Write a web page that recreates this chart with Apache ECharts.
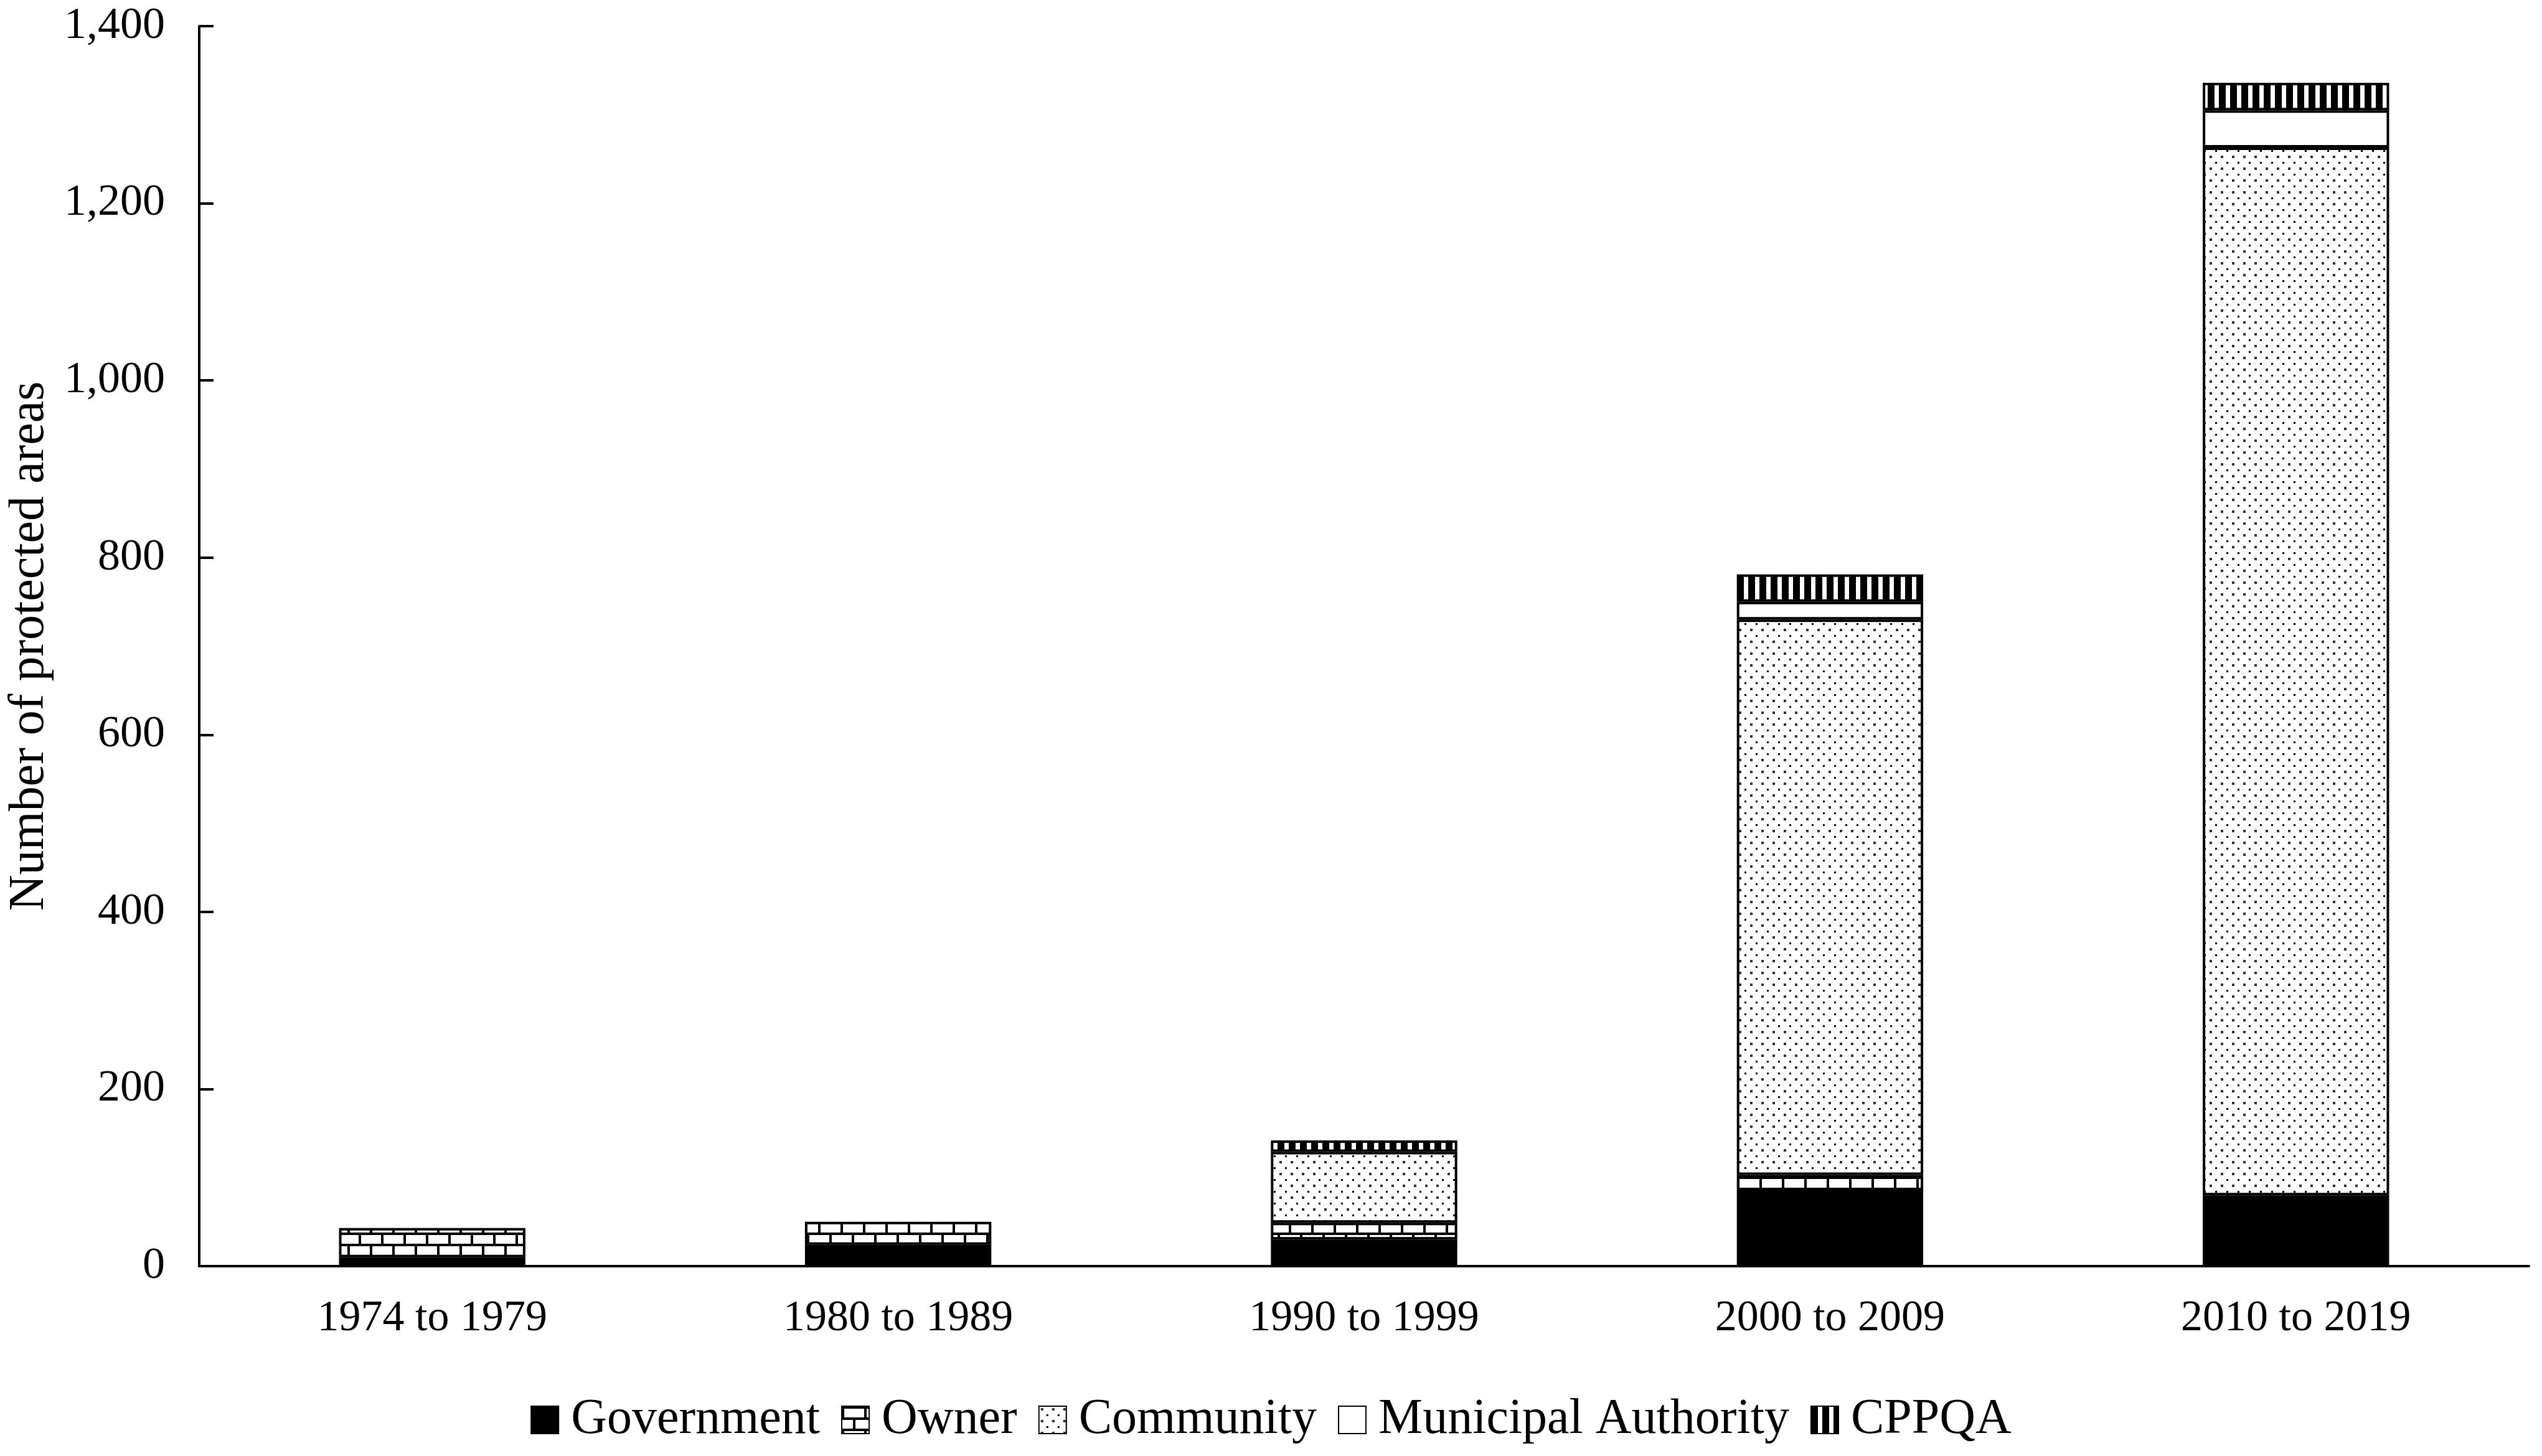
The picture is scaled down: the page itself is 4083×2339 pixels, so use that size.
<!DOCTYPE html>
<html>
<head>
<meta charset="utf-8">
<script src="https://cdn.jsdelivr.net/npm/echarts@6/dist/echarts.min.js"></script>
<style>
html,body{margin:0;padding:0;background:#fff;}
#chart{width:4083px;height:2339px;}
</style>
</head>
<body>
<div id="chart"></div>
<script>
// ---- data ----
var categories = ['1974 to 1979', '1980 to 1989', '1990 to 1999', '2000 to 2009', '2010 to 2019'];
var government = [10, 24, 30, 85, 80];
var owner      = [33, 26, 19, 18, 0];
var community  = [0, 0, 80, 627, 1183];
var municipal  = [0, 0, 0, 20, 42];
var cppqa      = [0, 0, 13, 31, 31];
var seriesNames = ['Government', 'Owner', 'Community', 'Municipal Authority', 'CPPQA'];
var yTicks = [0, 200, 400, 600, 800, 1000, 1200, 1400];

// ---- patterns ----
function makeCanvas(w, h, draw) {
  var c = document.createElement('canvas');
  c.width = w; c.height = h;
  var ctx = c.getContext('2d');
  ctx.fillStyle = '#fff';
  ctx.fillRect(0, 0, w, h);
  draw(ctx);
  return c;
}
var brick = makeCanvas(72, 36, function (ctx) {
  ctx.fillStyle = '#000';
  ctx.fillRect(0, 0, 72, 4);
  ctx.fillRect(0, 18, 72, 4);
  ctx.fillRect(0, 0, 4, 18);
  ctx.fillRect(36, 0, 4, 18);
  ctx.fillRect(18, 18, 4, 18);
  ctx.fillRect(54, 18, 4, 18);
});
var dots = makeCanvas(18, 19, function (ctx) {
  ctx.fillStyle = '#333';
  ctx.fillRect(3, 3, 4, 4);
  ctx.fillStyle = '#000';
  ctx.fillRect(12, 13, 3, 3);
});
var stripes = makeCanvas(18, 18, function (ctx) {
  ctx.fillStyle = '#000';
  ctx.fillRect(0, 0, 11, 18);
});

var fills = [
  '#000',
  { image: brick, repeat: 'repeat' },
  { image: dots, repeat: 'repeat' },
  '#fff',
  { image: stripes, repeat: 'repeat' }
];
var values = [government, owner, community, municipal, cppqa];

var font = 'Liberation Serif';
var series = seriesNames.map(function (name, i) {
  return {
    name: name,
    type: 'bar',
    stack: 'total',
    barWidth: '40%',
    data: values[i].map(function (v) { return v === 0 ? '-' : v; }),
    itemStyle: { color: fills[i], borderColor: '#000', borderWidth: 4 }
  };
});

var chart = echarts.init(document.getElementById('chart'));
chart.setOption({
  backgroundColor: '#fff',
  animation: false,
  grid: { left: 316, right: 21, top: 42, bottom: 305 },
  legend: {
    data: seriesNames,
    top: 2236,
    left: 'center',
    itemWidth: 44,
    itemHeight: 44,
    itemGap: 34,
    icon: 'rect',
    textStyle: { fontFamily: font, fontSize: 80, color: '#000', padding: [0, 0, 0, 15] }
  },
  xAxis: {
    type: 'category',
    data: categories,
    axisLine: { lineStyle: { color: '#000', width: 4 } },
    axisTick: { show: false },
    axisLabel: { fontFamily: font, fontSize: 70, color: '#000', margin: 50 }
  },
  yAxis: {
    type: 'value',
    min: yTicks[0],
    max: yTicks[yTicks.length - 1],
    interval: 200,
    name: 'Number of protected areas',
    nameLocation: 'middle',
    nameGap: 232,
    nameTextStyle: { fontFamily: font, fontSize: 80, color: '#000' },
    axisLine: { show: true, lineStyle: { color: '#000', width: 4 } },
    axisTick: { show: true, inside: true, length: 23, lineStyle: { color: '#000', width: 4 } },
    splitLine: { show: false },
    axisLabel: {
      fontFamily: font, fontSize: 72, color: '#000', margin: 55,
      formatter: function (v) { return v.toLocaleString('en-US'); }
    }
  },
  series: series
});
</script>
</body>
</html>
